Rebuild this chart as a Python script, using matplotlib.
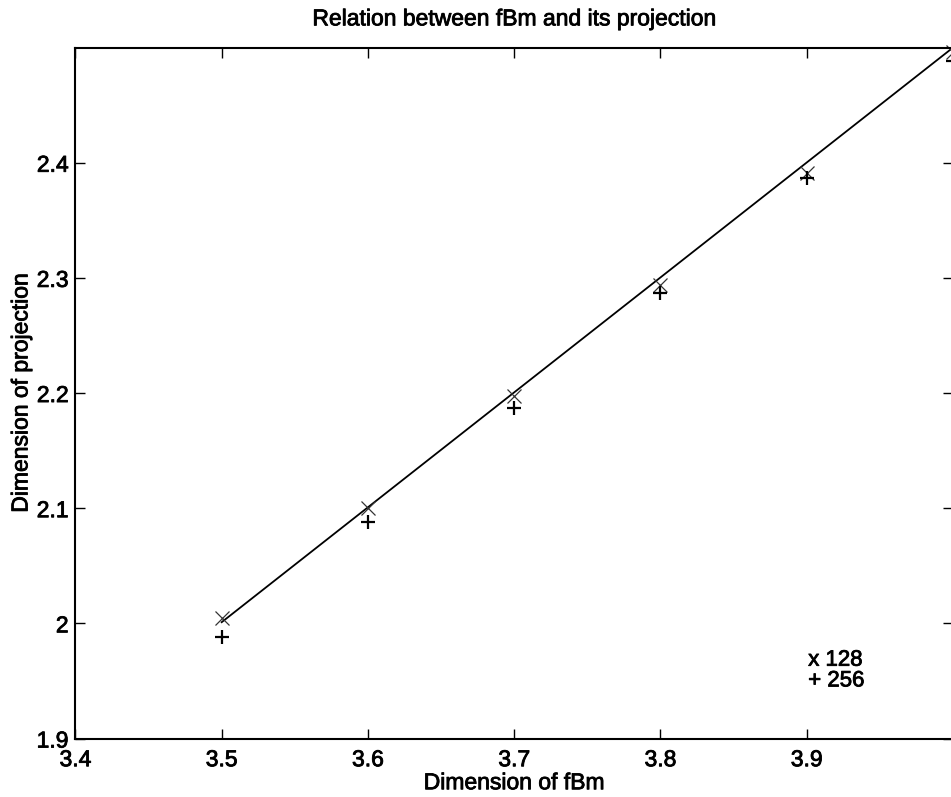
import matplotlib
matplotlib.use("Agg")
import matplotlib.pyplot as plt
import matplotlib.patheffects as pe

plt.rcParams['font.family'] = ['Liberation Sans', 'DejaVu Sans']
thick = [pe.withStroke(linewidth=0.6, foreground='black')]

dims = [3.5, 3.6, 3.7, 3.8, 3.9, 4.0]
proj_128 = [2.005, 2.100, 2.197, 2.294, 2.391, 2.496]
proj_256 = [1.988, 2.088, 2.187, 2.287, 2.387, 2.488]
fit_x = [3.5, 4.0]
fit_y = [2.001, 2.5]
xticks = [3.4, 3.5, 3.6, 3.7, 3.8, 3.9]
yticks = [1.9, 2.0, 2.1, 2.2, 2.3, 2.4]

fig = plt.figure(figsize=(9.51, 7.97), dpi=100)
ax = fig.add_axes([0.0793, 0.0734, 1.0021 - 0.0793, 0.9403 - 0.0734])

ax.plot(fit_x, fit_y, color='black', lw=1.3, clip_on=False)
ax.plot(dims, proj_128, linestyle='none', marker='x', ms=9.5, mew=0.9,
        color='#333333', clip_on=False)
ax.plot(dims, proj_256, linestyle='none', marker='+', ms=9.5, mew=1.6,
        color='black', clip_on=False)

ax.set_xlim(3.4, 4.0)
ax.set_ylim(1.9, 2.5)
ax.set_xticks(xticks)
ax.set_yticks(yticks)
ax.set_xticklabels([f"{v:g}" for v in xticks])
ax.set_yticklabels([f"{v:g}" for v in yticks])
ax.tick_params(direction='in', length=7, width=1, labelsize=16.5,
               top=True, right=True)
ax.tick_params(axis='x', pad=7)
ax.tick_params(axis='y', pad=5)
for lbl in ax.get_xticklabels() + ax.get_yticklabels():
    lbl.set_path_effects(thick)
for s in ax.spines.values():
    s.set_linewidth(1.5)

t1 = ax.text(3.901, 1.968, "x 128", fontsize=16, va='center', ha='left')
t2 = ax.text(3.901, 1.950, "+ 256", fontsize=16, va='center', ha='left')

tt = ax.set_title("Relation between fBm and its projection", fontsize=16.5, pad=16)
xl = ax.set_xlabel("Dimension of fBm", fontsize=16.5, labelpad=0)
yl = ax.set_ylabel("Dimension of projection", fontsize=16.5, labelpad=3)
for t in (t1, t2, tt, xl, yl):
    t.set_path_effects(thick)

fig.savefig("out.png", dpi=100)
